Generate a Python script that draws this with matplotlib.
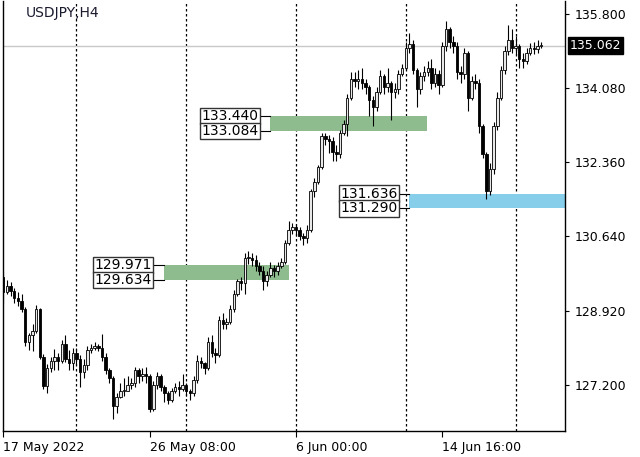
import matplotlib
matplotlib.use("Agg")
import matplotlib.pyplot as plt
import matplotlib.transforms as mtransforms
import numpy as np

# USDJPY H4 candles (bar index 0 = 17 May 2022)
closes = [129.35, 129.50, 129.38, 129.22, 129.15, 128.95, 128.20, 128.35, 128.45, 128.95,
          127.85, 127.18, 127.60, 127.75, 127.85, 127.75, 128.15, 127.80, 127.70, 127.95,
          127.80, 127.50, 127.65, 128.00, 128.05, 128.10, 128.05, 127.85, 127.55, 127.35,
          126.70, 126.92, 127.05, 127.05, 127.20, 127.25, 127.55, 127.40, 127.45, 127.40,
          126.65, 127.20, 127.40, 127.15, 127.00, 126.85, 127.05, 127.15, 127.10, 127.20,
          127.05, 127.00, 127.32, 127.75, 127.70, 127.60, 128.20, 127.95, 127.90, 128.70,
          128.60, 128.65, 128.95, 129.30, 129.60, 129.55, 130.15, 130.15, 130.10, 129.95,
          129.85, 129.60, 129.75, 129.90, 129.85, 129.95, 130.05, 130.50, 130.80, 130.85,
          130.80, 130.65, 130.60, 130.80, 131.69, 131.90, 132.25, 132.97, 132.90, 132.85,
          132.60, 132.55, 133.05, 133.25, 133.86, 134.29, 134.25, 134.30, 134.20, 134.10,
          133.80, 133.65, 134.00, 134.35, 134.10, 134.20, 134.00, 134.05, 134.40, 134.55,
          135.00, 135.10, 134.50, 134.05, 134.35, 134.45, 134.55, 134.20, 134.40, 134.15,
          135.05, 135.45, 135.15, 135.05, 134.45, 134.40, 134.90, 133.85, 134.25, 134.20,
          133.20, 132.55, 131.70, 132.20, 133.20, 133.86, 134.50, 134.95, 135.20, 135.00,
          135.05, 134.75, 134.70, 134.90, 135.00, 134.98, 135.05, 135.062]
highs = [129.82, 129.62, 129.58, 129.45, 129.35, 129.30, 129.00, 128.40, 128.62, 129.05,
         128.98, 127.92, 127.68, 127.85, 128.02, 127.95, 128.25, 128.36, 128.00, 128.05,
         128.05, 127.90, 127.80, 128.10, 128.15, 128.20, 128.15, 128.38, 127.95, 127.60,
         127.40, 127.00, 127.25, 127.35, 127.40, 127.35, 127.62, 127.60, 127.58, 127.62,
         127.45, 127.30, 127.50, 127.45, 127.20, 127.05, 127.12, 127.25, 127.28, 127.45,
         127.25, 127.10, 127.40, 127.90, 127.85, 127.72, 128.30, 128.36, 128.05, 128.80,
         128.87, 128.75, 129.05, 129.40, 129.65, 129.70, 130.26, 130.30, 130.25, 130.20,
         130.05, 129.95, 129.85, 130.05, 129.98, 130.05, 130.15, 130.55, 130.99, 130.95,
         130.92, 130.85, 130.72, 130.90, 131.75, 132.00, 132.30, 133.05, 133.05, 133.00,
         132.95, 132.75, 133.10, 133.35, 133.95, 134.45, 134.45, 134.50, 134.55, 134.30,
         134.15, 133.90, 134.10, 134.50, 134.40, 134.55, 134.25, 134.20, 134.50, 134.65,
         135.15, 135.35, 135.20, 134.55, 134.45, 134.60, 134.70, 134.75, 134.55, 134.50,
         135.15, 135.64, 135.50, 135.30, 135.15, 134.60, 135.00, 134.95, 134.35, 134.40,
         134.30, 133.25, 132.60, 132.35, 133.30, 134.00, 134.60, 135.05, 135.55, 135.45,
         135.30, 135.10, 134.90, 135.00, 135.12, 135.15, 135.20, 135.15]
lows = [129.10, 129.30, 129.25, 129.10, 129.02, 128.88, 128.10, 128.00, 127.98, 128.40,
        127.80, 127.10, 127.02, 127.50, 127.55, 127.55, 127.70, 127.72, 127.55, 127.55,
        127.65, 127.15, 127.35, 127.55, 127.95, 128.00, 127.98, 127.75, 127.45, 127.25,
        126.40, 126.55, 126.90, 126.95, 127.05, 127.10, 127.15, 127.25, 127.30, 127.25,
        126.58, 126.60, 127.10, 127.05, 126.80, 126.75, 126.80, 127.00, 126.95, 127.05,
        126.95, 126.85, 126.95, 127.25, 127.60, 127.45, 127.55, 127.85, 127.70, 127.85,
        128.50, 128.50, 128.60, 128.90, 129.25, 129.40, 129.30, 130.00, 129.95, 129.85,
        129.75, 129.40, 129.50, 129.70, 129.70, 129.75, 129.90, 130.00, 130.45, 130.70,
        130.65, 130.55, 130.45, 130.50, 130.75, 131.55, 131.85, 132.20, 132.75, 132.58,
        132.40, 132.40, 132.45, 133.00, 132.97, 133.80, 134.10, 134.05, 134.05, 133.95,
        133.43, 133.20, 133.55, 133.95, 133.95, 134.00, 133.35, 133.85, 133.95, 134.35,
        134.50, 134.90, 134.40, 133.64, 133.95, 134.25, 134.35, 134.05, 134.10, 133.95,
        134.10, 134.95, 135.00, 134.90, 134.30, 134.20, 134.30, 133.55, 133.80, 134.05,
        133.05, 132.45, 131.50, 131.60, 132.10, 133.10, 133.80, 134.40, 134.85, 134.90,
        134.85, 134.55, 134.55, 134.65, 134.85, 134.88, 134.90, 135.00]
first_open = 129.70
opens = [first_open] + closes[:-1]

last_price = 135.062
price_ticks = [127.200, 128.920, 130.640, 132.360, 134.080, 135.800]
date_pos = [0, 40, 80, 120]
date_labels = ["17 May 2022", "26 May 08:00", "6 Jun 00:00", "14 Jun 16:00"]
week_lines = [20, 50, 80, 110, 140]

# supply / demand zones: low, high, first bar, last bar, colour
zone_lo = [133.084, 129.634, 131.290]
zone_hi = [133.440, 129.971, 131.636]
zone_start = [73.0, 43.8, 111.0]
zone_end = [115.8, 78.0, 160.0]
zone_color = ["#8fbc8f", "#8fbc8f", "#87ceeb"]

fig = plt.figure(figsize=(6.4, 4.57), dpi=100)
W, H = 640, 457
ax = fig.add_axes([2.5 / W, 1 - 431 / H, (565 - 2.5) / W, (431 - 1) / H])
ax.set_xlim(-0.2, 153.5)
ax.set_ylim(126.13, 136.10)

# grid: dotted verticals at week starts
for x in week_lines:
    ax.axvline(x, color="black", lw=0.9, ls=(0, (2, 2)), zorder=1)

# current price line
ax.axhline(last_price, color="#c8c8c8", lw=1, zorder=1)

# zones
for lo, hi, x0, x1, col in zip(zone_lo, zone_hi, zone_start, zone_end, zone_color):
    ax.fill_between([x0, x1], lo, hi, color=col, lw=0, zorder=2)

# candles
x = np.arange(len(closes))
o = np.array(opens)
c = np.array(closes)
hi_ = np.array(highs)
lo_ = np.array(lows)
ax.vlines(x, lo_, hi_, color="black", lw=0.8, zorder=3)
bull = c >= o
body_lo = np.minimum(o, c)
body_h = np.maximum(np.abs(c - o), 0.02)
ax.bar(x[bull], body_h[bull], bottom=body_lo[bull], width=0.68,
       facecolor="#e8e8e8", edgecolor="black", linewidth=0.6, zorder=4)
ax.bar(x[~bull], body_h[~bull], bottom=body_lo[~bull], width=0.68,
       facecolor="black", edgecolor="black", linewidth=0.6, zorder=4)

# price labels for zones
gap = 10 / 3.66
for lo, hi, x0 in zip(zone_lo, zone_hi, zone_start):
    xr = x0 - gap
    for p in (hi, lo):
        ax.plot([xr, x0], [p, p], color="black", lw=0.8, zorder=5)
        ax.text(xr - 0.5, p, f"{p:.3f}", ha="right", va="center", fontsize=10,
                color="black", zorder=6,
                bbox=dict(boxstyle="square,pad=0.08", fc="white", ec="#333333", lw=1))

# axes styling
for s in ("left", "right", "bottom"):
    ax.spines[s].set_color("black")
    ax.spines[s].set_linewidth(1)
ax.spines["top"].set_visible(False)
ax.yaxis.tick_right()
ax.set_yticks(price_ticks)
ax.set_yticklabels([f"{p:.3f}" for p in price_ticks], fontsize=9)
ax.tick_params(axis="y", direction="out", length=3, pad=4, width=0.8)
ax.set_xticks(date_pos)
ax.set_xticklabels(date_labels, fontsize=9, ha="left")
ax.tick_params(axis="x", direction="out", length=4, pad=3, width=0.8)

# current price box on the scale
trans = mtransforms.blended_transform_factory(ax.transAxes, ax.transData)
ax.text(1.008, last_price, f"{last_price:.3f}", transform=trans, ha="left", va="center",
        fontsize=9, color="white", zorder=7, clip_on=False,
        bbox=dict(boxstyle="square,pad=0.15", fc="black", ec="black"))

ax.text(23 / 562, 1 - 12 / 430, "USDJPY,H4", transform=ax.transAxes, ha="left",
        va="center", fontsize=10, color="#1a1a2e")

fig.savefig("out.png", dpi=100)
